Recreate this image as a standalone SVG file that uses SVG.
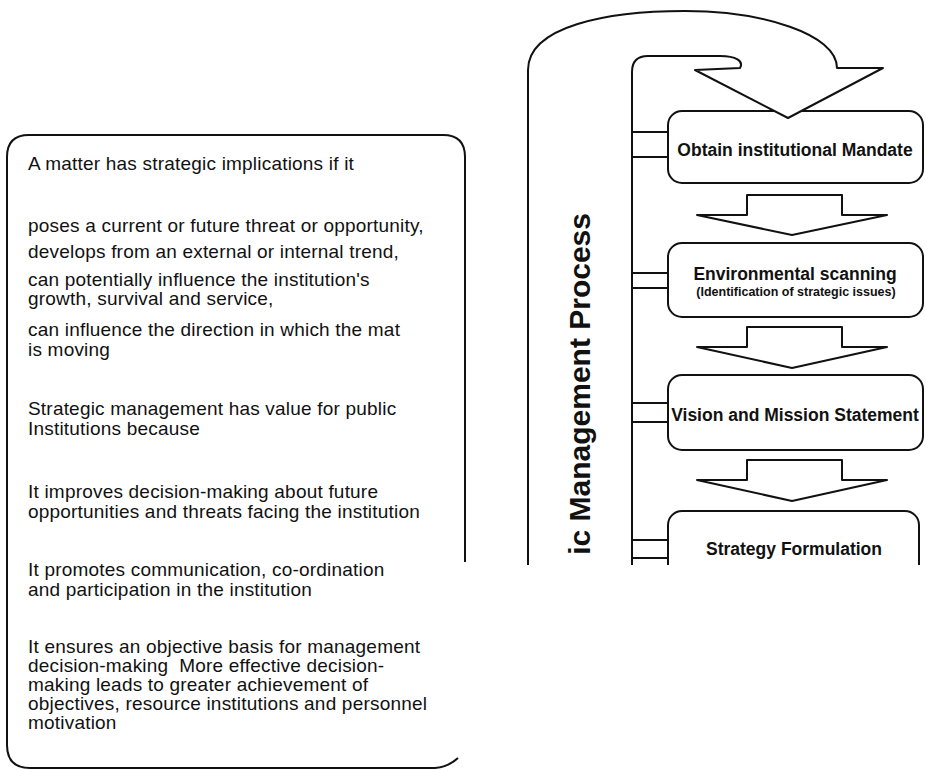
<svg xmlns="http://www.w3.org/2000/svg" width="926" height="770" viewBox="0 0 926 770">
<style>
.ln{fill:none;stroke:#111;stroke-width:2;stroke-linejoin:round}
.wf{fill:#fff;stroke:#111;stroke-width:2;stroke-linejoin:round}
.t{font-family:"Liberation Sans",Arial,Helvetica,sans-serif;font-size:19px;letter-spacing:0.2px;fill:#111;white-space:pre}
.b{font-family:"Liberation Sans",Arial,Helvetica,sans-serif;font-weight:bold;font-size:17.5px;fill:#111;text-anchor:middle}
.s{font-family:"Liberation Sans",Arial,Helvetica,sans-serif;font-weight:bold;font-size:12.5px;fill:#111;text-anchor:middle}
.v{font-family:"Liberation Sans",Arial,Helvetica,sans-serif;font-weight:bold;font-size:30px;fill:#111;text-anchor:end}
</style>
<defs>
<clipPath id="crop"><rect x="500" y="0" width="426" height="565"/></clipPath>
</defs>
<rect width="926" height="770" fill="#fff"/>

<g id="left-box">
<path class="ln" d="M465,562 V157 Q465,135 443,135 H29 Q7,135 7,157 V745 Q7,768 30,768 H435 Q448,767 458,758"/>
<text class="t" x="28" y="170">A matter has strategic implications if it</text>
<text class="t" x="28" y="232">poses a current or future threat or opportunity,</text>
<text class="t" x="28" y="258">develops from an external or internal trend,</text>
<text class="t" x="28" y="286">can potentially influence the institution's</text>
<text class="t" x="28" y="305">growth, survival and service,</text>
<text class="t" x="28" y="336">can influence the direction in which the mat</text>
<text class="t" x="28" y="356">is moving</text>
<text class="t" x="28" y="415">Strategic management has value for public</text>
<text class="t" x="28" y="435">Institutions because</text>
<text class="t" x="28" y="498">It improves decision-making about future</text>
<text class="t" x="28" y="518">opportunities and threats facing the institution</text>
<text class="t" x="28" y="576">It promotes communication, co-ordination</text>
<text class="t" x="28" y="596">and participation in the institution</text>
<text class="t" x="28" y="653">It ensures an objective basis for management</text>
<text class="t" x="28" y="672">decision-making  More effective decision-</text>
<text class="t" x="28" y="691">making leads to greater achievement of</text>
<text class="t" x="28" y="710">objectives, resource institutions and personnel</text>
<text class="t" x="28" y="729">motivation</text>
</g>

<g id="process" clip-path="url(#crop)">
<g id="node-mandate">
<rect class="wf" x="668" y="111" width="255" height="72" rx="14"/>
<text class="b" x="795" y="156">Obtain institutional Mandate</text>
</g>
<g id="node-scanning">
<rect class="wf" x="668" y="243" width="255" height="74" rx="14"/>
<text class="b" x="795" y="280">Environmental scanning</text>
<text class="s" x="796" y="296">(Identification of strategic issues)</text>
</g>
<g id="node-vision">
<rect class="wf" x="668" y="375" width="255" height="75" rx="14"/>
<text class="b" x="795" y="421">Vision and Mission Statement</text>
</g>
<g id="node-strategy">
<rect class="wf" x="668" y="511" width="251" height="90" rx="14"/>
<text class="b" x="794" y="555">Strategy Formulation</text>
</g>

<g id="connectors">
<path id="loop" class="wf" d="M528,580 V70 C528,26 608,11 685,11 C762,11 837,34 837,68 H883 L788,118 L695,70 L740,68 C744,61 736,56 720,56 H648 Q632,56 632,72 V580 Z"/>
<path class="ln" d="M632,132 H668 M632,157 H668"/>
<path class="ln" d="M632,273 H668 M632,288 H668"/>
<path class="ln" d="M632,403 H668 M632,422 H668"/>
<path class="ln" d="M632,540 H668 M632,558 H668"/>
<path class="wf" d="M747,195 H842 V215 H887 L792,235 L697,215 H747 Z"/>
<path class="wf" d="M747,327 H842 V347 H887 L792,368 L697,347 H747 Z"/>
<path class="wf" d="M747,460 H842 V480 H887 L792,501 L697,480 H747 Z"/>
</g>

<text id="process-title" class="v" transform="translate(590,213) rotate(-90)">ic Management Process</text>
</g>
</svg>
